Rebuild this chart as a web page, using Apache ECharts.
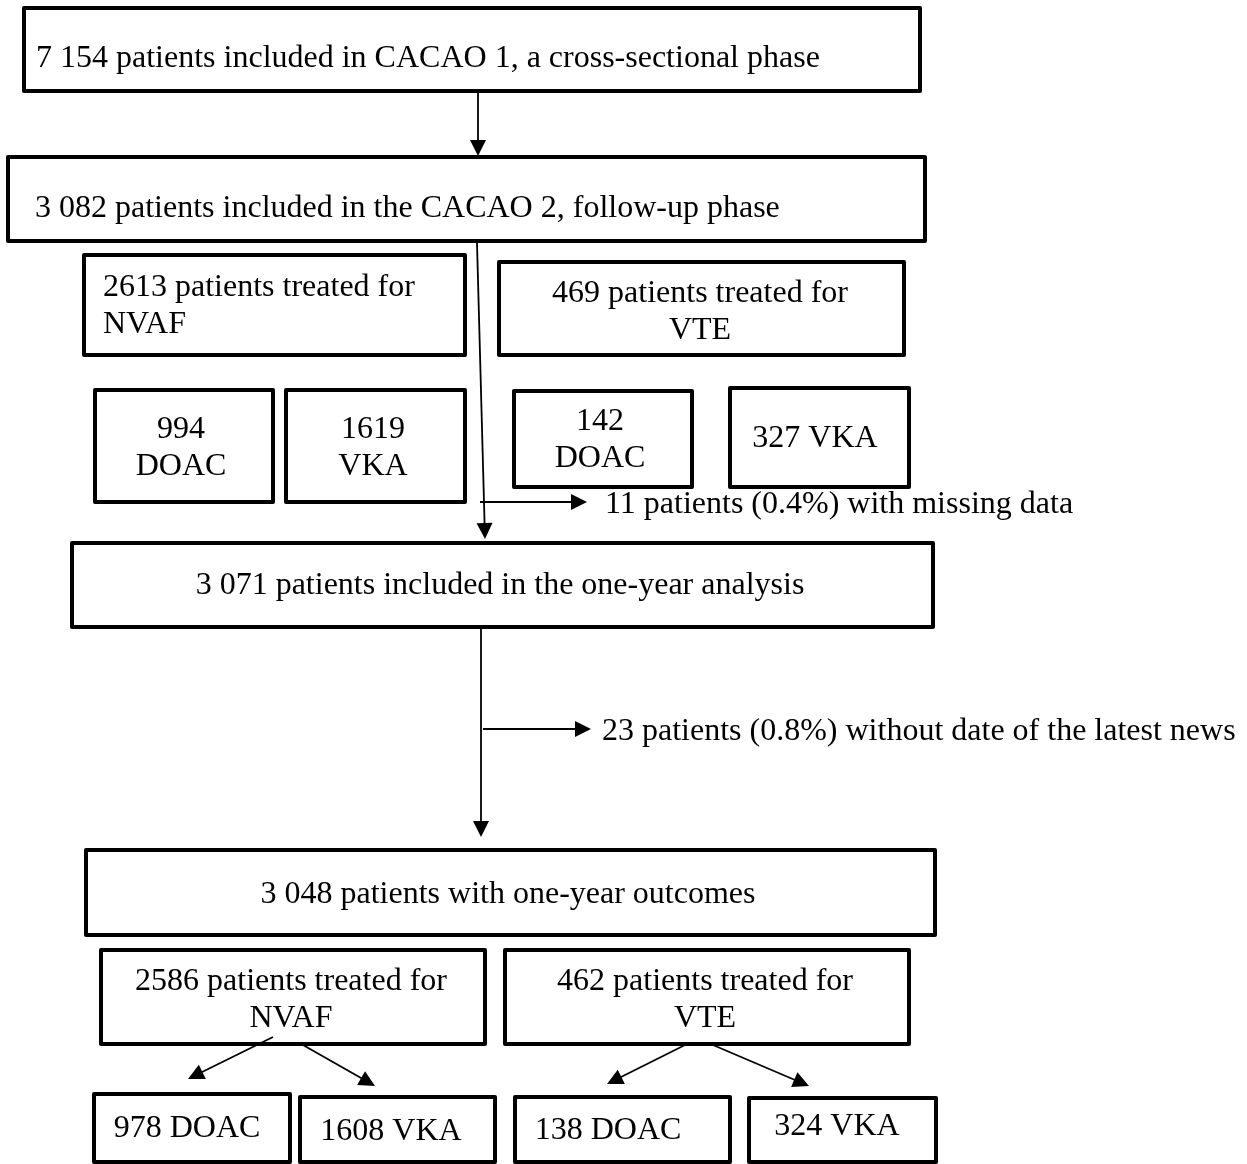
<!DOCTYPE html>
<html>
<head>
<meta charset="utf-8">
<script src="https://cdn.jsdelivr.net/npm/echarts@6/dist/echarts.min.js"></script>
<style>
html,body{margin:0;padding:0;background:#fff;}
#chart{width:1247px;height:1164px;}
</style>
</head>
<body>
<div id="chart"></div>
<script>
// ---------- Data (texts of the flow chart) ----------
const stageTexts = [
  '7 154 patients included in CACAO 1, a cross-sectional phase',
  '3 082 patients included in the CACAO 2, follow-up phase',
  '3 071 patients included in the one-year analysis',
  '3 048 patients with one-year outcomes'
];
const indicationTexts1 = ['2613 patients treated for\nNVAF', '469 patients treated for\nVTE'];
const treatmentTexts1 = ['994\nDOAC', '1619\nVKA', '142\nDOAC', '327 VKA'];
const exclusionTexts = [
  '11 patients (0.4%) with missing data',
  '23 patients (0.8%) without date of the latest news'
];
const indicationTexts2 = ['2586 patients treated for\nNVAF', '462 patients treated for\nVTE'];
const treatmentTexts2 = ['978 DOAC', '1608 VKA', '138 DOAC', '324 VKA'];

// ---------- Layout (positions in the 1247x1164 frame) ----------
// box: [x1, y1, x2, y2, textX, textY, align]
const boxLayout = [
  [24, 8, 920, 91, 36, 59, 'left'],
  [8, 157, 925, 241, 35, 209, 'left'],
  [84, 255, 465, 355, 103, 306, 'left'],
  [499, 262, 904, 355, 700, 312, 'center'],
  [95, 390, 273, 502, 181, 448, 'center'],
  [286, 390, 465, 502, 373, 448, 'center'],
  [514, 391, 692, 487, 600, 440, 'center'],
  [730, 388, 909, 487, 815, 439, 'center'],
  [72, 543, 933, 627, 500, 586, 'center'],
  [86, 850, 935, 935, 508, 895, 'center'],
  [101, 950, 485, 1044, 291, 1000, 'center'],
  [505, 950, 909, 1044, 705, 1000, 'center'],
  [94, 1094, 290, 1162, 187, 1129, 'center'],
  [300, 1097, 495, 1162, 391, 1132, 'center'],
  [515, 1097, 730, 1162, 608, 1131, 'center'],
  [749, 1098, 936, 1162, 837, 1127, 'center']
];
const boxTexts = [
  stageTexts[0], stageTexts[1],
  indicationTexts1[0], indicationTexts1[1],
  treatmentTexts1[0], treatmentTexts1[1], treatmentTexts1[2], treatmentTexts1[3],
  stageTexts[2], stageTexts[3],
  indicationTexts2[0], indicationTexts2[1],
  treatmentTexts2[0], treatmentTexts2[1], treatmentTexts2[2], treatmentTexts2[3]
];
// free labels: [x, y]
const labelLayout = [[605, 505], [602, 732]];
// arrows: [x1, y1, x2, y2]
const arrowLayout = [
  [478, 92, 478, 156],
  [477, 243, 485, 539],
  [480, 502, 587, 502],
  [481, 627, 481, 837],
  [483, 729, 591, 729],
  [273, 1037, 188, 1079],
  [303, 1045, 375, 1086],
  [685, 1045, 607, 1084],
  [713, 1045, 809, 1086]
];

const FONT = "'Liberation Serif', 'Times New Roman', serif";

const boxData = boxLayout.map((b, i) => ({
  value: [b[0], b[1], b[2], b[3], b[4], b[5]],
  name: boxTexts[i],
  align: b[6]
}));
const labelData = labelLayout.map((p, i) => ({ value: [p[0], p[1]], name: exclusionTexts[i] }));
const arrowData = arrowLayout.map(a => ({ value: a }));

const chart = echarts.init(document.getElementById('chart'), null, { renderer: 'canvas' });

chart.setOption({
  animation: false,
  backgroundColor: '#ffffff',
  grid: { left: 0, right: 0, top: 0, bottom: 0 },
  xAxis: { type: 'value', min: 0, max: 1247, show: false },
  yAxis: { type: 'value', min: 0, max: 1164, inverse: true, show: false },
  series: [
    {
      type: 'custom',
      name: 'boxes',
      silent: true,
      clip: false,
      coordinateSystem: 'cartesian2d',
      encode: { x: [0, 2, 4], y: [1, 3, 5] },
      data: boxData,
      renderItem: function (params, api) {
        const p1 = api.coord([api.value(0), api.value(1)]);
        const p2 = api.coord([api.value(2), api.value(3)]);
        const t = api.coord([api.value(4), api.value(5)]);
        const item = boxData[params.dataIndex];
        return {
          type: 'group',
          children: [
            {
              type: 'rect',
              shape: { x: p1[0], y: p1[1], width: p2[0] - p1[0], height: p2[1] - p1[1] },
              style: { fill: '#ffffff', stroke: '#000000', lineWidth: 4, lineJoin: 'round' }
            },
            {
              type: 'text',
              style: {
                text: item.name, x: t[0], y: t[1],
                align: item.align, verticalAlign: 'middle',
                fontSize: 32, fontFamily: FONT, lineHeight: 37, fill: '#000000'
              }
            }
          ]
        };
      }
    },
    {
      type: 'custom',
      name: 'labels',
      silent: true,
      clip: false,
      coordinateSystem: 'cartesian2d',
      data: labelData,
      renderItem: function (params, api) {
        const p = api.coord([api.value(0), api.value(1)]);
        return {
          type: 'text',
          style: {
            text: labelData[params.dataIndex].name, x: p[0], y: p[1],
            align: 'left', verticalAlign: 'middle',
            fontSize: 32, fontFamily: FONT, fill: '#000000'
          }
        };
      }
    },
    {
      type: 'custom',
      name: 'arrows',
      silent: true,
      clip: false,
      z: 5,
      coordinateSystem: 'cartesian2d',
      encode: { x: [0, 2], y: [1, 3] },
      data: arrowData,
      renderItem: function (params, api) {
        const a = api.coord([api.value(0), api.value(1)]);
        const b = api.coord([api.value(2), api.value(3)]);
        const dx = b[0] - a[0], dy = b[1] - a[1];
        const len = Math.sqrt(dx * dx + dy * dy);
        const ux = dx / len, uy = dy / len;
        const headL = 16, headW = 8;
        const bx = b[0] - ux * headL, by = b[1] - uy * headL;
        return {
          type: 'group',
          children: [
            {
              type: 'line',
              shape: { x1: a[0], y1: a[1], x2: bx + ux * 2, y2: by + uy * 2 },
              style: { stroke: '#000000', lineWidth: 1.8 }
            },
            {
              type: 'polygon',
              shape: { points: [[b[0], b[1]], [bx - uy * headW, by + ux * headW], [bx + uy * headW, by - ux * headW]] },
              style: { fill: '#000000' }
            }
          ]
        };
      }
    }
  ]
});
</script>
</body>
</html>
